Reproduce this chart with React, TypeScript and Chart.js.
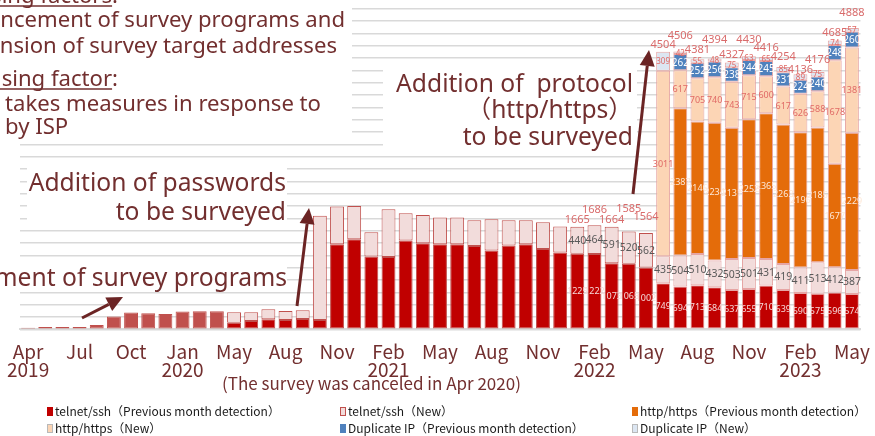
import React, { useEffect, useRef } from "react";
import { Chart, registerables } from "chart.js";

Chart.register(...registerables);

const _ = null;

// ---------------- DATA ----------------
const categories = [
  "Apr 2019", "May 2019", "Jun 2019", "Jul 2019", "Aug 2019", "Sep 2019", "Oct 2019", "Nov 2019", "Dec 2019",
  "Jan 2020", "Feb 2020", "Mar 2020", "May 2020", "Jun 2020", "Jul 2020", "Aug 2020", "Sep 2020", "Oct 2020", "Nov 2020", "Dec 2020",
  "Jan 2021", "Feb 2021", "Mar 2021", "Apr 2021", "May 2021", "Jun 2021", "Jul 2021", "Aug 2021", "Sep 2021", "Oct 2021", "Nov 2021", "Dec 2021",
  "Jan 2022", "Feb 2022", "Mar 2022", "Apr 2022", "May 2022", "Jun 2022", "Jul 2022", "Aug 2022", "Sep 2022", "Oct 2022", "Nov 2022", "Dec 2022",
  "Jan 2023", "Feb 2023", "Mar 2023", "Apr 2023", "May 2023",
];

// axis labels shown on every third category
const tickLabels: (string | string[])[] = [
  ["Apr", "2019"], "Jul", "Oct", ["Jan", "2020"], "May", "Aug", "Nov", ["Feb", "2021"], "May", "Aug", "Nov",
  ["Feb", "2022"], "May", "Aug", "Nov", ["Feb", "2023"], "May",
];

const seriesNames = [
  "telnet/ssh（Previous month detection）",
  "telnet/ssh（New）",
  "http/https（Previous month detection）",
  "http/https（New）",
  "Duplicate IP（Previous month detection）",
  "Duplicate IP（New）",
];

const telnetPrev = [
  27, 38, 38, 38, 70, 206, 271, 260, 249, 287, 292, 292,
  108, 135, 162, 151, 167, 151,
  1380, 1461, 1180, 1174, 1439, 1396, 1380, 1380, 1353, 1277, 1358, 1380, 1304, 1245,
  1225, 1222, 1073, 1065, 1002,
  749, 694, 713, 684, 637, 655, 710, 639, 590, 575, 596, 574,
];
const telnetNew = [
  _, _, _, _, _, _, _, _, _, _, _, _,
  168, 141, 162, 146, 141, 1693,
  611, 541, 395, 774, 444, 460, 433, 433, 416, 509, 411, 389, 433, 422,
  440, 464, 591, 520, 562,
  435, 504, 510, 432, 503, 501, 431, 419, 411, 513, 412, 387,
];
const httpPrev = [
  _, _, _, _, _, _, _, _, _, _, _, _, _, _, _, _, _, _,
  _, _, _, _, _, _, _, _, _, _, _, _, _, _, _, _, _, _, _,
  _, 2387, 2146, 2234, 2131, 2252, 2365, 2263, 2196, 2185, 1677, 2229,
];
const httpNew = [
  _, _, _, _, _, _, _, _, _, _, _, _, _, _, _, _, _, _,
  _, _, _, _, _, _, _, _, _, _, _, _, _, _, _, _, _, _, _,
  3011, 617, 705, 740, 743, 715, 600, 617, 626, 588, 1678, 1381,
];
const dupPrev = [
  _, _, _, _, _, _, _, _, _, _, _, _, _, _, _, _, _, _,
  _, _, _, _, _, _, _, _, _, _, _, _, _, _, _, _, _, _, _,
  _, 262, 252, 256, 238, 244, 245, 231, 224, 240, 248, 260,
];
const dupNew = [
  _, _, _, _, _, _, _, _, _, _, _, _, _, _, _, _, _, _,
  _, _, _, _, _, _, _, _, _, _, _, _, _, _, _, _, _, _, _,
  309, 42, 55, 48, 75, 63, 65, 85, 89, 75, 74, 57,
];

const series = [telnetPrev, telnetNew, httpPrev, httpNew, dupPrev, dupNew];

const labelFromIndex = 32; // first month whose segments and totals are labelled
const EARLY_COUNT = 12; // months before the split into previous/new

// ---------------- STYLE ----------------
const TEXT = "#722F2F";
const ARROW = "#6B2424";
const MAIN_FONT = '"Noto Sans", "Noto Sans CJK JP", sans-serif';
const NARROW_FONT = '"Noto Sans CJK JP", sans-serif';
const LABEL_FONT = '"Noto Sans", sans-serif';

const fills = ["#C00000", "#F2DCDB", "#E46C0A", "#FCD5B5", "#4F81BD", "#DCE6F2"];
const EARLY_FILL = "#C0504D";
const PINK_EDGE = "#E6A5A4";

const segStyles = [
  { color: "#F6D9D9", size: 9 },
  { color: "#595959", size: 10.5 },
  { color: "#FDE9D9", size: 9 },
  { color: "#E06A66", size: 9 },
  { color: "#FFFFFF", size: 10 },
  { color: "#E06A66", size: 8 },
];

const totalLift = [4, 12, 4, 20, 13, 4, 13, 6, 15, 5, 13, 6, 7, 1, 9, 4, 12];

const whiteBoxes = [
  [0, 0, 352, 140],
  [27, 162, 260, 64],
  [0, 260, 287, 29],
  [383, 63, 254, 89],
];

function fit(ctx: CanvasRenderingContext2D, text: string, width: number, family: string) {
  ctx.font = `20px ${family}`;
  return (20 * width) / ctx.measureText(text).width;
}

function arrow(ctx: CanvasRenderingContext2D, x1: number, y1: number, x2: number, y2: number) {
  const a = Math.atan2(y2 - y1, x2 - x1);
  const len = 16, hw = 7.5;
  const bx = x2 - len * Math.cos(a), by = y2 - len * Math.sin(a);
  ctx.strokeStyle = ARROW;
  ctx.fillStyle = ARROW;
  ctx.lineWidth = 3;
  ctx.beginPath();
  ctx.moveTo(x1, y1);
  ctx.lineTo(bx, by);
  ctx.stroke();
  ctx.beginPath();
  ctx.moveTo(x2, y2);
  ctx.lineTo(bx + hw * Math.sin(a), by - hw * Math.cos(a));
  ctx.lineTo(bx - hw * Math.sin(a), by + hw * Math.cos(a));
  ctx.closePath();
  ctx.fill();
}

function textLine(ctx: CanvasRenderingContext2D, text: string, x: number, y: number, align: CanvasTextAlign, underline = false) {
  ctx.textAlign = align;
  ctx.fillText(text, x, y);
  if (underline) {
    const w = ctx.measureText(text).width;
    const cw = ctx.measureText(":").width;
    const start = align === "right" ? x - w : x;
    ctx.save();
    ctx.strokeStyle = TEXT;
    ctx.lineWidth = 1.5;
    ctx.beginPath();
    ctx.moveTo(start, y + 3);
    ctx.lineTo(start + w - cw, y + 3);
    ctx.stroke();
    ctx.restore();
  }
}

const overlayPlugin = {
  id: "overlay",
  beforeDatasetsDraw(chart: any) {
    const ctx = chart.ctx as CanvasRenderingContext2D;
    ctx.save();
    ctx.fillStyle = "#ffffff";
    for (const [x, y, w, h] of whiteBoxes) ctx.fillRect(x, y, w, h);
    ctx.restore();
  },
  afterDatasetsDraw(chart: any) {
    const ctx = chart.ctx as CanvasRenderingContext2D;
    const yScale = chart.scales.y;
    ctx.save();
    ctx.textAlign = "center";
    ctx.textBaseline = "middle";
    chart.data.datasets.forEach((ds: any, d: number) => {
      const meta = chart.getDatasetMeta(d);
      const st = segStyles[d];
      ctx.fillStyle = st.color;
      ctx.font = `${st.size}px ${LABEL_FONT}`;
      ds.data.forEach((v: number | null, i: number) => {
        if (v == null || i < labelFromIndex) return;
        const el = meta.data[i];
        ctx.fillText(String(v), el.x, (el.y + el.base) / 2 + 0.5);
      });
    });
    ctx.textBaseline = "alphabetic";
    ctx.fillStyle = "#D96B6B";
    ctx.font = `11px ${LABEL_FONT}`;
    const meta0 = chart.getDatasetMeta(0);
    for (let i = labelFromIndex; i < categories.length; i++) {
      const total = series.reduce((s, arr) => s + (arr[i] ?? 0), 0);
      const yp = yScale.getPixelForValue(total) - totalLift[i - labelFromIndex];
      ctx.fillText(String(total), meta0.data[i].x, yp);
    }
    ctx.restore();
  },
  afterDraw(chart: any) {
    const ctx = chart.ctx as CanvasRenderingContext2D;
    ctx.save();
    ctx.fillStyle = TEXT;
    ctx.textBaseline = "alphabetic";

    // top-left factors text
    const s1 = fit(ctx, "ncement of survey programs and", 345, MAIN_FONT);
    ctx.font = `${s1}px ${MAIN_FONT}`;
    textLine(ctx, "Increasing factors:", 118, 3, "right", true);
    textLine(ctx, "Enhancement of survey programs and", 345, 27, "right");
    textLine(ctx, "expansion of survey target addresses", 337, 53, "right");
    textLine(ctx, "Decreasing factor:", 118, 86, "right", true);
    textLine(ctx, "takes measures in response to", 5, 111, "left");
    textLine(ctx, "by ISP", 5, 134, "left");

    // callouts
    const s2 = (fit(ctx, "Addition of passwords", 255, MAIN_FONT) + fit(ctx, "to be surveyed", 172, MAIN_FONT)) / 2;
    ctx.font = `${s2}px ${MAIN_FONT}`;
    textLine(ctx, "Addition of passwords", 286, 191, "right");
    textLine(ctx, "to be surveyed", 286, 220, "right");
    textLine(ctx, "Enhancement of survey programs", 287, 286, "right");
    textLine(ctx, "Addition of  protocol", 633, 92, "right");
    textLine(ctx, "（http/https）", 633, 118, "right");
    textLine(ctx, "to be surveyed", 633, 145, "right");

    arrow(ctx, 82, 318, 123, 297);
    arrow(ctx, 297, 306, 309, 208);
    arrow(ctx, 633, 194, 649, 50);

    // caption
    ctx.fillStyle = TEXT;
    ctx.font = `17px ${NARROW_FONT}`;
    ctx.textAlign = "left";
    ctx.fillText("(The survey was canceled in Apr 2020)", 222, 390);

    // legend
    const cols = [47, 340, 632];
    const rows = [416, 433];
    ctx.font = `12px ${NARROW_FONT}`;
    seriesNames.forEach((name, k) => {
      const x = cols[k % 3];
      const y = rows[Math.floor(k / 3)];
      ctx.fillStyle = fills[k];
      ctx.fillRect(x, y - 9, 6, 9);
      ctx.strokeStyle = k === 1 ? "#C0504D" : k % 2 === 1 ? "#B9B9B9" : fills[k];
      ctx.lineWidth = 1;
      ctx.strokeRect(x + 0.5, y - 8.5, 5, 8);
      ctx.fillStyle = "#1a1a1a";
      ctx.textAlign = "left";
      ctx.fillText(name, x + 8, y);
    });
    ctx.restore();
  },
};

export default function App() {
  const ref = useRef<HTMLCanvasElement | null>(null);
  useEffect(() => {
    if (!ref.current) return;
    const edge = (c: any) => (c.dataIndex >= 37 ? PINK_EDGE : "#C0504D");
    const datasets = [
      {
        label: seriesNames[0],
        data: telnetPrev,
        backgroundColor: (c: any) => (c.dataIndex < EARLY_COUNT ? EARLY_FILL : fills[0]),
        borderColor: (c: any) => (c.dataIndex < EARLY_COUNT ? EARLY_FILL : edge(c)),
      },
      { label: seriesNames[1], data: telnetNew, backgroundColor: fills[1], borderColor: edge },
      { label: seriesNames[2], data: httpPrev, backgroundColor: fills[2], borderColor: PINK_EDGE },
      { label: seriesNames[3], data: httpNew, backgroundColor: fills[3], borderColor: PINK_EDGE },
      { label: seriesNames[4], data: dupPrev, backgroundColor: fills[4], borderColor: PINK_EDGE },
      { label: seriesNames[5], data: dupNew, backgroundColor: fills[5], borderColor: PINK_EDGE },
    ].map((d) => ({
      ...d,
      borderWidth: 1,
      borderSkipped: false,
      stack: "all",
      barPercentage: 0.81,
      categoryPercentage: 1,
    }));

    const chart = new Chart(ref.current, {
      type: "bar",
      data: { labels: categories, datasets: datasets as any },
      options: {
        responsive: false,
        animation: false,
        devicePixelRatio: 1,
        layout: { padding: { left: 19.5, right: 6.8, top: 0, bottom: 0 } },
        plugins: {
          legend: { display: false },
          tooltip: { enabled: false },
        },
        scales: {
          x: {
            stacked: true,
            grid: { display: false },
            border: { display: true, color: "#D9D9D9", width: 2 },
            ticks: {
              autoSkip: false,
              maxRotation: 0,
              minRotation: 0,
              padding: 5,
              color: TEXT,
              font: { family: NARROW_FONT, size: 19, lineHeight: 0.95 },
              callback: (_v: any, i: number) => (i % 3 === 0 ? tickLabels[i / 3] : ""),
            },
            afterFit: (s: any) => {
              s.height = 436 - 329.3;
            },
          },
          y: {
            stacked: true,
            min: 0,
            max: 5342,
            grid: { color: "#D9D9D9", lineWidth: 1.5, drawTicks: false },
            border: { display: false },
            ticks: { display: false, stepSize: 200, includeBounds: false },
            afterFit: (s: any) => {
              s.width = 0;
            },
          },
        },
      } as any,
      plugins: [overlayPlugin],
    });
    return () => chart.destroy();
  }, []);

  return (
    <div style={{ position: "fixed", left: 0, top: 0, width: 875, height: 436, background: "#fff" }}>
      <canvas ref={ref} width={875} height={436} style={{ width: 875, height: 436, display: "block" }} />
    </div>
  );
}
